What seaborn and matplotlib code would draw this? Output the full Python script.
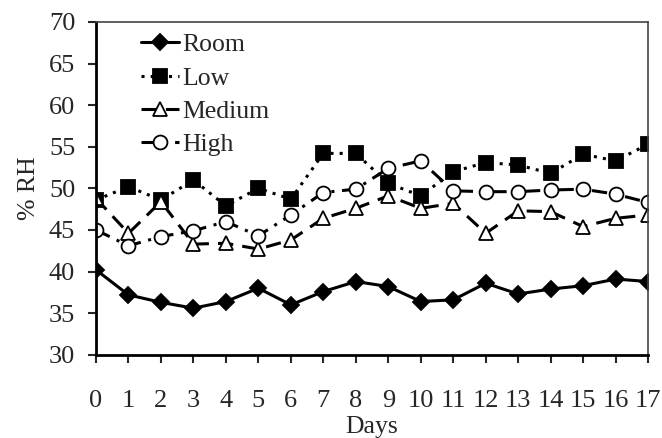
import numpy as np
import pandas as pd
import matplotlib
matplotlib.use("Agg")
import matplotlib.pyplot as plt
import seaborn as sns

sns.set_style("ticks")
plt.rcParams['font.family'] = ['Liberation Serif', 'DejaVu Serif']

# data
days = list(range(18))
room = [40.2, 37.2, 36.3, 35.6, 36.4, 38.0, 36.0, 37.6, 38.8, 38.2,
        36.4, 36.6, 38.6, 37.3, 37.9, 38.3, 39.1, 38.8]
low = [48.6, 50.2, 48.6, 51.0, 47.9, 50.0, 48.7, 54.2, 54.2, 50.6,
       49.1, 52.0, 53.1, 52.8, 51.8, 54.1, 53.3, 55.3]
medium = [48.8, 44.6, 48.4, 43.3, 43.4, 42.7, 43.8, 46.4, 47.6, 49.1,
          47.6, 48.2, 44.6, 47.3, 47.2, 45.4, 46.4, 46.8]
high = [45.0, 43.1, 44.2, 44.9, 46.0, 44.3, 46.8, 49.5, 49.9, 52.4,
        53.3, 49.7, 49.6, 49.6, 49.8, 49.9, 49.3, 48.3]

series = {"Room": room, "Low": low, "Medium": medium, "High": high}
styles = {
    "Room": dict(marker="D", linestyle="-", markerfacecolor="black", markersize=8),
    "Low": dict(marker="s", linestyle=(0, (1, 2)), markerfacecolor="black", markersize=10),
    "Medium": dict(marker="^", linestyle=(0, (5, 3)), markerfacecolor="white", markersize=10),
    "High": dict(marker="o", linestyle=(0, (5, 2.5, 1, 2.5)), markerfacecolor="white", markersize=10),
}

fig = plt.figure(figsize=(6.62, 4.38), dpi=100)
ax = fig.add_axes([0.145, 0.19, 0.834, 0.76])

for name, vals in series.items():
    df = pd.DataFrame({"Days": days, "RH": vals})
    sns.lineplot(data=df, x="Days", y="RH", ax=ax, color="black", linewidth=2.2,
                 markeredgecolor="black", markeredgewidth=1.3, label=name,
                 **styles[name])

ax.set_xlim(0, 17)
ax.set_ylim(30, 70)
ax.set_xticks(days)
ax.set_yticks(range(30, 71, 5))
ax.tick_params(axis="both", labelsize=19, direction="out", length=6, width=1.5)
ax.tick_params(axis="x", pad=19)
ax.tick_params(axis="y", pad=9)
ax.set_xlabel("Days", fontsize=18.5, labelpad=3)
ax.set_ylabel("% RH", fontsize=18.5, labelpad=6)
ax.spines["left"].set_linewidth(2)
ax.spines["bottom"].set_linewidth(2)
ax.spines["top"].set_linewidth(1.2)
ax.spines["right"].set_linewidth(1.2)
for s in ax.spines.values():
    s.set_color("black")
ax.spines["top"].set_color("#444444")
ax.spines["right"].set_color("#444444")

leg = ax.legend(loc="upper left", bbox_to_anchor=(0.06, 1.0), frameon=False,
                fontsize=18.5, handlelength=1.5, handletextpad=0.1,
                labelspacing=0.4, borderaxespad=0.05)

fig.savefig("out.png", dpi=100)
